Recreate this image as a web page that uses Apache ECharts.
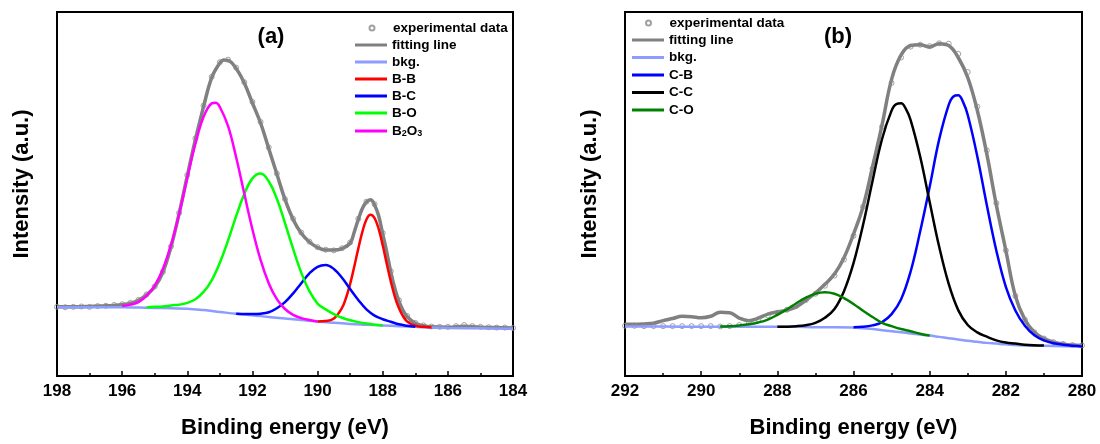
<!DOCTYPE html>
<html>
<head>
<meta charset="utf-8">
<script src="https://cdn.jsdelivr.net/npm/echarts@6/dist/echarts.min.js"></script>
<style>html,body{margin:0;padding:0;background:#fff}#c{width:1100px;height:444px}</style>
</head>
<body>
<div id="c"></div>
<script>
// ---------- Panel (a): B 1s ----------
const xTicksA = [184, 198];
const expA = [[198,19.0],[197.75,18.9],[197.5,19.0],[197.25,19.1],[197,19.0],[196.75,19.2],[196.5,19.3],[196.25,19.5],[196,19.7],[195.75,20.1],[195.5,20.9],[195.25,22.4],[195,24.6],[194.75,28.6],[194.5,35.6],[194.25,44.8],[194,55.2],[193.75,65.3],[193.5,74.3],[193.25,82.2],[193,86.2],[192.75,86.9],[192.5,84.7],[192.25,80.7],[192,75.3],[191.75,69.8],[191.5,62.8],[191.25,55.6],[191,48.6],[190.75,43.2],[190.5,39.4],[190.25,36.9],[190,35.4],[189.75,34.7],[189.5,34.5],[189.25,35.1],[189,36.7],[188.75,43.2],[188.5,47.9],[188.25,47.2],[188,39.3],[187.75,28.8],[187.5,20.8],[187.25,16.5],[187,14.6],[186.75,13.9],[186.5,13.6],[186.25,13.5],[186,13.5],[185.75,13.7],[185.5,14.0],[185.25,13.7],[185,13.5],[184.75,13.4],[184.5,13.3],[184.25,13.3],[184,13.2]];
const fitA = [[198,19.0],[197.5,19.0],[197,19.1],[196.5,19.3],[196.25,19.4],[196,19.6],[195.75,20.0],[195.5,20.8],[195.25,22.3],[195,24.5],[194.75,28.5],[194.5,35.5],[194.25,44.7],[194,55.0],[193.75,65.0],[193.5,74.0],[193.25,82.0],[193,86.0],[192.875,86.8],[192.75,86.7],[192.5,84.5],[192.25,80.5],[192,75.0],[191.75,69.5],[191.5,62.5],[191.25,55.5],[191,48.5],[190.75,43.0],[190.5,39.2],[190.25,36.8],[190,35.3],[189.75,34.6],[189.5,34.6],[189.25,35.0],[189,36.5],[188.875,39.5],[188.75,43.0],[188.625,46.0],[188.5,47.8],[188.375,48.4],[188.25,47.0],[188.125,44.0],[188,39.0],[187.875,34.0],[187.75,28.5],[187.625,24.0],[187.5,20.5],[187.375,18.0],[187.25,16.3],[187,14.5],[186.75,13.8],[186.5,13.5],[186,13.4],[185.5,13.7],[185,13.4],[184.5,13.3],[184,13.2]];
const bkgA = [[198,18.9],[197,18.9],[196,18.9],[195.5,18.8],[195,18.7],[194.5,18.6],[194,18.5],[193.5,18.1],[193,17.6],[192.5,17.1],[192,16.7],[191.5,16.2],[191,15.8],[190.5,15.4],[190,15.0],[189.5,14.6],[189,14.3],[188.5,14.1],[188,13.9],[187.5,13.7],[187,13.5],[186.5,13.3],[186,13.2],[185,13.1],[184,13.0]];
const bbA = [[190,15.0],[189.75,15.1],[189.5,15.8],[189.25,18.7],[189.125,21.5],[189,25.3],[188.875,30.0],[188.75,35.0],[188.625,39.6],[188.5,43.0],[188.375,44.3],[188.25,43.4],[188.125,40.4],[188,35.9],[187.875,30.8],[187.75,25.9],[187.625,21.7],[187.5,18.6],[187.375,16.4],[187.25,15.0],[187,13.8],[186.75,13.5],[186.5,13.3]];
const bcA = [[192.5,17.1],[192.25,17.0],[192,17.0],[191.75,17.1],[191.5,17.5],[191.25,18.6],[191,20.3],[190.75,22.7],[190.5,25.5],[190.25,28.2],[190,30.0],[189.75,30.5],[189.5,29.4],[189.25,27.0],[189,23.9],[188.75,20.9],[188.5,18.3],[188.25,16.6],[188,15.6],[187.75,14.9],[187.5,14.2],[187.25,13.8],[187,13.5]];
const boA = [[195.25,18.8],[195,19.0],[194.75,19.1],[194.5,19.4],[194.25,19.6],[194,20.1],[193.75,21.1],[193.5,23.1],[193.25,26.3],[193,31.1],[192.75,37.2],[192.5,43.9],[192.25,50.0],[192,54.3],[191.75,55.6],[191.5,53.5],[191.25,48.7],[191,42.0],[190.75,34.9],[190.5,28.4],[190.25,23.3],[190,19.9],[189.75,18.3],[189.5,17.0],[189.25,16.0],[189,15.3],[188.75,14.8],[188.5,14.4],[188.25,14.1],[188,13.9]];
const b2o3A = [[196,19.2],[195.75,19.6],[195.5,20.3],[195.25,22.0],[195,24.8],[194.75,29.4],[194.5,36.0],[194.25,44.5],[194,54.4],[193.75,63.8],[193.5,71.2],[193.25,74.9],[193.125,75.1],[193,73.9],[192.75,68.7],[192.5,60.1],[192.25,50.1],[192,40.3],[191.75,31.9],[191.5,25.5],[191.25,21.1],[191,18.4],[190.75,16.8],[190.5,15.9],[190.25,15.4],[190,15.0]];

// ---------- Panel (b): C 1s ----------
const xTicksB = [280, 292];
const expB = [[292,13.8],[291.75,13.8],[291.5,13.7],[291.25,13.7],[291,13.7],[290.75,13.7],[290.5,13.7],[290.25,13.7],[290,13.7],[289.75,13.7],[289.5,13.6],[289.25,13.7],[289,14.0],[288.75,14.6],[288.5,15.6],[288.25,16.6],[288,17.4],[287.75,18.2],[287.5,19.3],[287.25,20.9],[287,22.6],[286.75,24.8],[286.5,27.6],[286.25,32.0],[286,38.5],[285.75,46.5],[285.5,57.0],[285.25,68.5],[285,80.5],[284.75,87.5],[284.5,90.5],[284.25,91.0],[284,90.6],[283.75,91.4],[283.5,91.3],[283.25,88.5],[283,83.5],[282.75,74.0],[282.5,62.0],[282.25,47.5],[282,34.5],[281.75,22.0],[281.5,15.5],[281.25,12.0],[281,10.3],[280.75,9.3],[280.5,8.8],[280.25,8.5],[280,8.4]];
const fitB = [[292,14.2],[291.75,14.2],[291.5,14.3],[291.25,14.5],[291,15.2],[290.75,15.8],[290.5,16.4],[290.25,16.3],[290,16.0],[289.75,16.4],[289.5,17.5],[289.25,17.4],[289,15.9],[288.75,15.2],[288.5,15.9],[288.25,17.0],[288,17.6],[287.75,18.1],[287.5,19.0],[287.25,20.8],[287,22.8],[286.75,25.2],[286.5,28.0],[286.25,32.5],[286,39.0],[285.75,46.5],[285.5,57.5],[285.25,69.0],[285,81.5],[284.75,88.2],[284.5,90.8],[284.25,91.0],[284,90.4],[283.75,91.3],[283.5,90.8],[283.25,87.5],[283,82.0],[282.75,73.0],[282.5,61.0],[282.25,47.0],[282,34.5],[281.75,22.0],[281.5,15.5],[281.25,12.0],[281,10.3],[280.75,9.3],[280.5,8.8],[280.25,8.5],[280,8.4]];
const bkgB = [[292,13.6],[291,13.6],[290,13.5],[289,13.5],[288,13.5],[287.5,13.5],[287,13.4],[286.5,13.4],[286,13.3],[285.75,13.1],[285.5,12.9],[285.25,12.6],[285,12.3],[284.75,12.0],[284.5,11.7],[284.25,11.4],[284,11.1],[283.75,10.75],[283.5,10.4],[283.25,10.05],[283,9.7],[282.75,9.4],[282.5,9.1],[282.25,8.9],[282,8.7],[281.5,8.4],[281,8.3],[280.5,8.2],[280,8.1]];
const cbB = [[286,13.4],[285.75,13.5],[285.5,13.9],[285.25,14.8],[285,17.0],[284.75,21.1],[284.5,28.7],[284.25,39.7],[284,52.0],[283.75,65.0],[283.5,74.5],[283.375,76.8],[283.25,77.1],[283.125,75.3],[283,71.7],[282.75,60.4],[282.5,47.0],[282.25,34.5],[282,24.5],[281.75,18.0],[281.5,13.8],[281.25,11.2],[281,9.8],[280.75,9.0],[280.5,8.6],[280.25,8.3],[280,8.1]];
const ccB = [[288,13.5],[287.5,13.7],[287.25,13.95],[287,14.6],[286.75,16.0],[286.5,18.4],[286.25,23.3],[286,31.0],[285.75,41.5],[285.5,53.6],[285.25,65.1],[285,72.9],[284.875,74.7],[284.75,74.9],[284.625,73.4],[284.5,70.3],[284.25,60.3],[284,47.8],[283.75,35.5],[283.5,25.3],[283.25,18.1],[283,14.0],[282.75,12.0],[282.5,10.8],[282.25,9.8],[282,9.2],[281.75,8.9],[281.5,8.6],[281,8.35]];
const coB = [[289.5,13.6],[289.25,13.7],[289,13.9],[288.75,14.2],[288.5,14.7],[288.25,15.5],[288,16.8],[287.75,18.3],[287.5,20.0],[287.25,21.5],[287,22.6],[286.75,23.0],[286.5,22.6],[286.25,21.4],[286,19.8],[285.75,17.9],[285.5,16.2],[285.25,14.6],[285,13.7],[284.75,12.9],[284.5,12.3],[284.25,11.6],[284,11.1]];

const FONT = 'Liberation Sans, Arial, Helvetica, sans-serif';

function lineS(name, data, color, width, gi, z) {
  return { name, type: 'line', data, xAxisIndex: gi, yAxisIndex: gi, smooth: 0.4,
    symbol: 'none', z, lineStyle: { color, width }, itemStyle: { color }, silent: true };
}
function expS(data, gi) {
  return { name: 'experimental data', type: 'scatter', data, xAxisIndex: gi, yAxisIndex: gi,
    symbol: 'circle', symbolSize: 5, z: 3, silent: true,
    itemStyle: { color: 'rgba(255,255,255,0)', borderColor: '#8a8a8a', borderWidth: 1 } };
}
function xAx(gi, mm) {
  return { gridIndex: gi, type: 'value', min: mm[0], max: mm[1], interval: 2, inverse: true,
    axisLine: { show: true, lineStyle: { color: '#000', width: 2 } },
    axisTick: { show: true, inside: true, length: 5, lineStyle: { color: '#000', width: 1.5 } },
    minorTick: { show: true, splitNumber: 2, length: 3, lineStyle: { color: '#000', width: 1.5 } },
    axisLabel: { color: '#000', fontSize: 17, fontWeight: 'bold', fontFamily: FONT, margin: 7 },
    splitLine: { show: false },
    name: 'Binding energy (eV)', nameLocation: 'middle', nameGap: 41,
    nameTextStyle: { color: '#000', fontSize: 22, fontWeight: 'bold', fontFamily: FONT } };
}
function yAx(gi) {
  return { gridIndex: gi, type: 'value', min: 0, max: 100,
    axisLine: { show: false }, axisTick: { show: false }, axisLabel: { show: false }, splitLine: { show: false },
    name: 'Intensity (a.u.)', nameLocation: 'middle', nameGap: 24,
    nameTextStyle: { color: '#000', fontSize: 22, fontWeight: 'bold', fontFamily: FONT, padding: [0, 0, 0, 20] } };
}
const legText = { color: '#000', fontSize: 13.5, fontWeight: 'bold', fontFamily: FONT, lineHeight: 14,
  rich: { s: { fontSize: 9, fontWeight: 'bold', fontFamily: FONT, verticalAlign: 'bottom', lineHeight: 14, padding: [6, 0, 0, 0] } } };
function leg(left, top, names, icon, ih, gap) {
  return { left, top, orient: 'vertical', padding: 0, itemWidth: 32, itemHeight: ih, itemGap: gap,
    selectedMode: false, icon, data: names, textStyle: legText,
    formatter: n => n === 'B2O3' ? 'B{s|2}O{s|3}' : n };
}

const BKG = '#8c9cff';
const option = {
  animation: false,
  backgroundColor: '#fff',
  grid: [
    { left: 57, top: 12, width: 456, height: 366, show: true, borderColor: '#000', borderWidth: 2, backgroundColor: 'transparent' },
    { left: 625, top: 12, width: 457, height: 366, show: true, borderColor: '#000', borderWidth: 2, backgroundColor: 'transparent' }
  ],
  xAxis: [xAx(0, xTicksA), xAx(1, xTicksB)],
  yAxis: [yAx(0), yAx(1)],
  legend: [
    leg(368.5, 21, ['experimental data'], 'circle', 5, 3),
    leg(355, 38, ['fitting line', 'bkg.', 'B-B', 'B-C', 'B-O', 'B2O3'], 'rect', 3, 3),
    leg(645, 16, ['experimental data'], 'circle', 5, 3),
    leg(632, 33, ['fitting line', 'bkg.', 'C-B', 'C-C', 'C-O'], 'rect', 3, 3.5)
  ],
  graphic: [
    { type: 'text', x: 271, y: 37, style: { text: '(a)', font: 'bold 22px ' + FONT, fill: '#000', align: 'center', verticalAlign: 'middle' } },
    { type: 'text', x: 838, y: 37, style: { text: '(b)', font: 'bold 22px ' + FONT, fill: '#000', align: 'center', verticalAlign: 'middle' } }
  ],
  series: [
    lineS('fitting line', fitA, '#808080', 3.5, 0, 2),
    expS(expA, 0),
    lineS('bkg.', bkgA, BKG, 2.5, 0, 4),
    lineS('B-B', bbA, '#ff0000', 2.5, 0, 5),
    lineS('B-C', bcA, '#0000ff', 2.5, 0, 5),
    lineS('B-O', boA, '#00ff00', 2.5, 0, 5),
    lineS('B2O3', b2o3A, '#ff00ff', 2.5, 0, 5),
    lineS('fitting line', fitB, '#808080', 3.5, 1, 2),
    expS(expB, 1),
    lineS('bkg.', bkgB, BKG, 2.5, 1, 4),
    lineS('C-B', cbB, '#0000ff', 2.5, 1, 5),
    lineS('C-C', ccB, '#000000', 2.5, 1, 5),
    lineS('C-O', coB, '#008000', 2.5, 1, 5)
  ]
};
const chart = echarts.init(document.getElementById('c'), null, { renderer: 'canvas' });
chart.setOption(option);
</script>
</body>
</html>
